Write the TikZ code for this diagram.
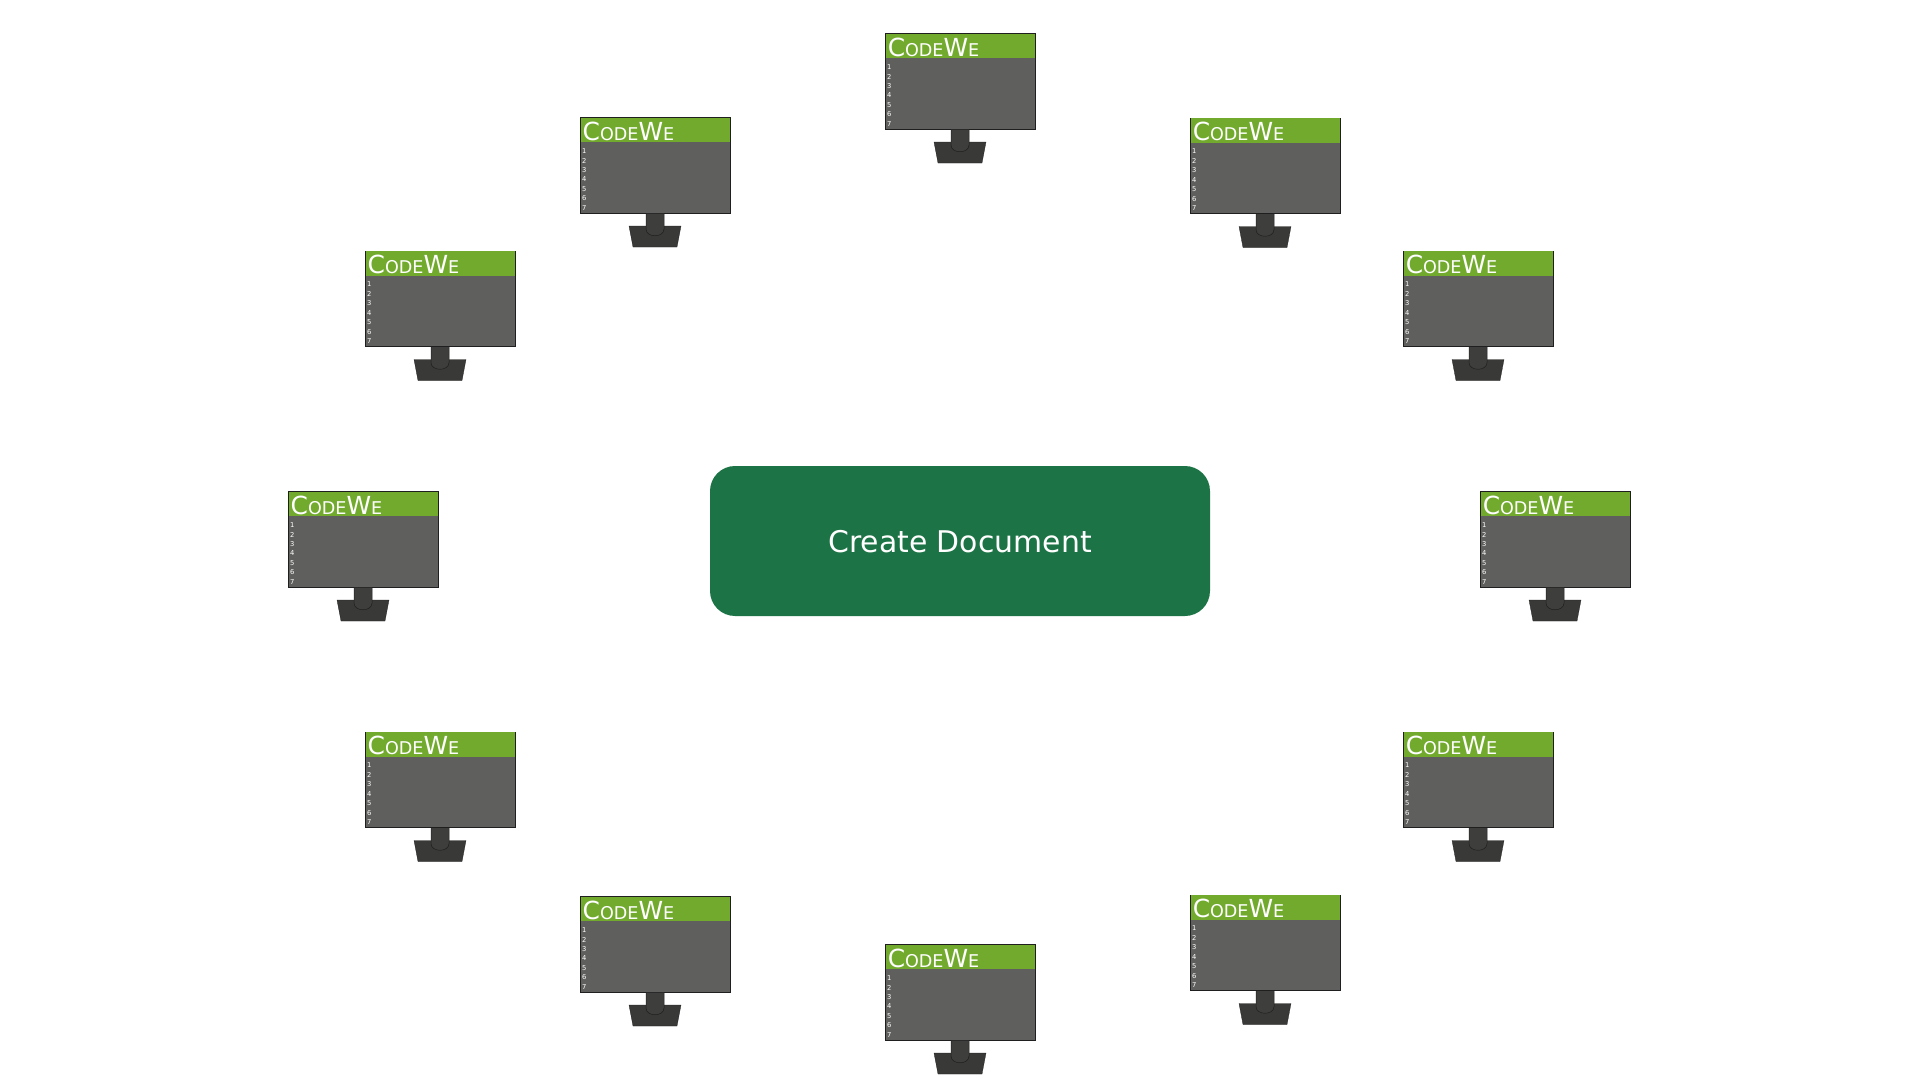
\documentclass[tikz,border=0pt]{standalone}
\usepackage{fontspec}
\setmainfont{DejaVu Sans}
\usetikzlibrary{positioning, calc}
\definecolor{DocGreen}{HTML}{1C7345}
\definecolor{BarGreen}{HTML}{72AA2E}
\definecolor{ScreenGray}{HTML}{5F5F5D}
\definecolor{StandGray}{HTML}{393937}
\definecolor{NeckGray}{HTML}{3E3E3C}
\definecolor{EdgeGray}{HTML}{1F1F1F}
\tikzset{
  docbox/.style={fill=DocGreen, text=white, rounded corners=1.25cm, minimum width=25cm, minimum height=7.5cm, text height=33.5pt, text depth=0pt, font=\fontsize{42.5pt}{50pt}\selectfont, inner sep=0pt},
  screenbox/.style={draw=EdgeGray, fill=ScreenGray, line width=0.7pt, minimum width=7.5cm, minimum height=4.78cm, inner sep=0pt, anchor=north west},
  barbox/.style={fill=BarGreen, minimum width=7.45cm, minimum height=1.22cm, inner sep=0pt, anchor=north west},
  brand/.style={text=white, inner sep=0pt, anchor=base west},
  linenum/.style={text=white, font=\fontsize{9.6pt}{10pt}\selectfont, inner sep=0pt},
  stand/.style={fill=StandGray, draw=EdgeGray, line width=0.4pt},
  neck/.style={fill=NeckGray, draw=EdgeGray, line width=0.7pt},
  pics/monitor/.style={code={
    \node[screenbox] (-screen) at (0,0) {};
    \node[barbox] (-bar) at (0.5,0.5) {};
    \node[brand] (-brand) at (2.6,23.4) {\fontsize{35.4pt}{38pt}\selectfont C\fontsize{25pt}{38pt}\selectfont ODE\fontsize{35.4pt}{38pt}\selectfont W\fontsize{25pt}{38pt}\selectfont E};
    \foreach \n in {1,...,7}
      \node[linenum] (-num\n) at (4.3,{34+(\n-1)*9.5}) {\n};
    \draw[stand] (49,109) -- (101,109) -- (97,130) -- (53,130) -- cycle;
    \draw[neck] (66,96.5) -- (66,112) .. controls (66,121) and (84,121) .. (84,112) -- (84,96.5);
  }}
}
\begin{document}
\begin{tikzpicture}[x=0.05cm, y=-0.05cm]
  \useasboundingbox (0,0) rectangle (1920,1080);
  \node[docbox] (doc) at (960,541) {Create Document};
  \foreach \i/\x/\y in {1/885/33, 2/1190/117.5, 3/1403/250.5, 4/1480/491, 5/1403/731.5, 6/1190/894.5, 7/885/944, 8/580/896, 9/365/731.5, 10/288/491, 11/365/250.5, 12/580/117}
    \pic (mon\i) at (\x,\y) {monitor};
\end{tikzpicture}
\end{document}
